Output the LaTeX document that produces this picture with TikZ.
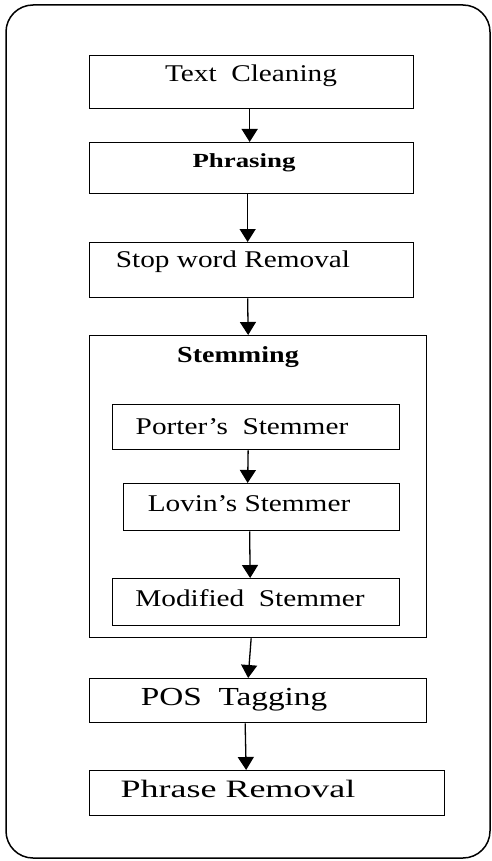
\documentclass[tikz,border=0pt]{standalone}
\usepackage{fontspec}
\setmainfont{Liberation Serif}
\usetikzlibrary{arrows.meta,calc}
\begin{document}
\begin{tikzpicture}[x=1pt,y=-1pt,
  box/.style={draw, line width=1.3pt, inner sep=0pt, anchor=north west},
  lbl/.style={inner sep=0pt, font=\fontsize{24}{26}\selectfont, xscale=1.22, transform shape},
  arr/.style={line width=1.3pt, -{Triangle[length=13pt,width=16pt]}}]
\useasboundingbox (0,0) rectangle (491,861);
\draw[line width=1.5pt, rounded corners=27pt] (6,5) rectangle (490,858);
% boxes
\node[box, minimum width=324pt, minimum height=53pt] (tc) at (89,55) {};
\node[box, minimum width=324pt, minimum height=51pt] (ph) at (89,142) {};
\node[box, minimum width=324pt, minimum height=55pt] (sw) at (89,242) {};
\node[box, minimum width=337pt, minimum height=302pt] (st) at (89,335) {};
\node[box, minimum width=287pt, minimum height=45pt] (ps) at (112,404) {};
\node[box, minimum width=276pt, minimum height=47pt] (ls) at (123,483) {};
\node[box, minimum width=287pt, minimum height=47pt] (ms) at (112,578) {};
\node[box, minimum width=337pt, minimum height=44pt] (pos) at (89,678) {};
\node[box, minimum width=355pt, minimum height=45pt] (pr) at (89,770) {};
% labels
\node[lbl] (tct) at (251,76) {Text\hspace{0.5em}Cleaning};
\node[lbl, font=\bfseries\fontsize{20}{22}\selectfont, xscale=1.1] (pht) at (244,163) {Phrasing};
\node[lbl] (swt) at (233,262) {Stop word Removal};
\node[lbl, font=\bfseries\fontsize{23}{25}\selectfont, xscale=1.0] (stt) at (238,357) {Stemming};
\node[lbl] (pst) at (242,427) {Porter’s\hspace{0.5em}Stemmer};
\node[lbl] (lst) at (249,504) {Lovin’s Stemmer};
\node[lbl] (mst) at (250,598) {Modified\hspace{0.5em}Stemmer};
\node[lbl, font=\fontsize{26}{28}\selectfont, xscale=1.05] (post) at (234,700) {POS\hspace{0.5em}Tagging};
\node[lbl, font=\fontsize{25}{27}\selectfont, xscale=1.18] (prt) at (238,789) {Phrase Removal};
% arrows
\draw[arr] ([xshift=-2pt]tc.south) -- ([xshift=-2pt]ph.north);
\draw[arr] ([xshift=-4pt]ph.south) -- ([xshift=-4pt]sw.north);
\draw[arr] ([xshift=-4pt]sw.south) -- ([xshift=-10pt]st.north);
\draw[arr] ([xshift=-8pt]ps.south) -- ([xshift=-14pt]ls.north);
\draw[arr] ([xshift=-12pt]ls.south) -- ([xshift=-6pt]ms.north);
\draw[arr] ([xshift=-7pt]st.south) -- ([xshift=-10pt]pos.north);
\draw[arr] ([xshift=-13pt]pos.south) -- ([xshift=-21pt]pr.north);
\end{tikzpicture}
\end{document}
